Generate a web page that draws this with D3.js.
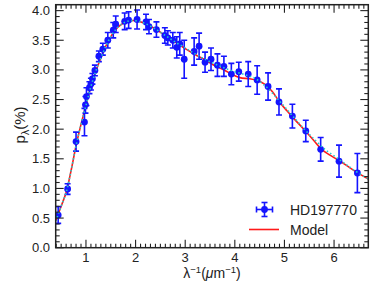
<!DOCTYPE html>
<html><head><meta charset="utf-8">
<script src="https://cdn.jsdelivr.net/npm/d3@7"></script>
<style>body{margin:0;background:#fff}svg{display:block}text{font-family:"Liberation Sans",Arial,sans-serif}</style>
</head><body><svg id="c" width="374" height="286"></svg>
<script>
const obsX = [0.44,0.63,0.80,0.97,0.99,1.01,1.07,1.10,1.13,1.18,1.26,1.34,1.44,1.55,1.60,1.78,1.86,2.03,2.21,2.27,2.42,2.59,2.65,2.75,2.83,2.89,2.98,3.18,3.28,3.40,3.52,3.65,3.78,3.93,4.08,4.27,4.45,4.67,4.89,5.16,5.43,5.73,6.10,6.47];
const obsP = [0.55,0.99,1.79,2.12,2.41,2.55,2.70,2.76,2.85,2.99,3.23,3.35,3.50,3.67,3.77,3.82,3.84,3.85,3.81,3.73,3.68,3.58,3.54,3.50,3.38,3.44,3.18,3.31,3.40,3.13,3.18,3.08,3.06,2.93,2.97,2.93,2.83,2.72,2.46,2.22,1.97,1.66,1.46,1.26];
const obsErr = [0.14,0.09,0.16,0.23,0.14,0.15,0.10,0.10,0.09,0.09,0.09,0.10,0.13,0.13,0.14,0.14,0.14,0.16,0.13,0.12,0.13,0.13,0.12,0.13,0.18,0.19,0.32,0.23,0.22,0.17,0.19,0.19,0.17,0.18,0.16,0.21,0.24,0.23,0.22,0.20,0.18,0.20,0.27,0.33];
const modelX = [0.39,0.50,0.60,0.70,0.80,0.90,1.00,1.10,1.20,1.30,1.40,1.50,1.60,1.70,1.80,1.90,2.00,2.10,2.20,2.40,2.60,2.80,3.00,3.20,3.40,3.60,3.80,3.95,4.10,4.30,4.45,4.60,4.75,4.90,5.05,5.20,5.40,5.60,5.75,5.90,6.10,6.30,6.50,6.69];
const modelP = [0.45,0.70,0.93,1.30,1.72,2.08,2.40,2.72,2.98,3.20,3.40,3.56,3.68,3.76,3.81,3.83,3.83,3.81,3.78,3.69,3.58,3.47,3.36,3.26,3.17,3.07,2.99,2.92,2.87,2.85,2.82,2.76,2.64,2.46,2.31,2.17,1.99,1.80,1.66,1.57,1.47,1.36,1.25,1.16];
const model2X = [0.39,0.50,0.60,0.70,0.80,0.90,1.00,1.10,1.20,1.30,1.40,1.50,1.60,1.70,1.80,1.90,2.00,2.10,2.20,2.40,2.60,2.80,3.00,3.20,3.40,3.60,3.80,4.00,4.20,4.40,4.60,4.80,5.00,5.20,5.40,5.60,5.80,6.00,6.20,6.40,6.69];
const model2P = [0.45,0.70,0.93,1.30,1.72,2.08,2.40,2.72,2.98,3.20,3.40,3.56,3.68,3.76,3.81,3.83,3.83,3.81,3.78,3.69,3.58,3.47,3.37,3.27,3.18,3.10,3.03,2.97,2.92,2.86,2.74,2.57,2.38,2.19,2.00,1.83,1.67,1.55,1.43,1.31,1.16];
const xMajor = [1,2,3,4,5,6];
const yMajor = [0.0,0.5,1.0,1.5,2.0,2.5,3.0,3.5,4.0];
const legendLabels = ["HD197770","Model"];

const svg = d3.select("#c");
const L=55.7,R=368.3,T=4.7,B=247.7;
const x = d3.scaleLinear().domain([0.39,6.69]).range([L,R]);
const y = d3.scaleLinear().domain([0,4.1]).range([B,T]);
const axisCol="#222";

svg.append("defs").append("clipPath").attr("id","cp").append("rect")
  .attr("x",L).attr("y",T).attr("width",R-L).attr("height",B-T);

const g = svg.append("g").attr("clip-path","url(#cp)");
const line = d3.line().x(d=>x(d[0])).y(d=>y(d[1])).curve(d3.curveCatmullRom);
g.append("path").datum(d3.zip(modelX,modelP)).attr("d",line)
  .attr("fill","none").attr("stroke","#ff1a1a").attr("stroke-width",1.6);

const blue="#1414ff";
const data = obsX.map((v,i)=>({x:v,p:obsP[i],e:obsErr[i]}));
const eb = g.append("g").attr("stroke",blue).attr("stroke-width",1.6);
data.forEach(d=>{
  eb.append("line").attr("x1",x(d.x)).attr("x2",x(d.x)).attr("y1",y(d.p-d.e)).attr("y2",y(d.p+d.e));
  eb.append("line").attr("x1",x(d.x)-3).attr("x2",x(d.x)+3).attr("y1",y(d.p-d.e)).attr("y2",y(d.p-d.e));
  eb.append("line").attr("x1",x(d.x)-3).attr("x2",x(d.x)+3).attr("y1",y(d.p+d.e)).attr("y2",y(d.p+d.e));
  eb.append("line").attr("x1",x(d.x)-2.5).attr("x2",x(d.x)+2.5).attr("y1",y(d.p)).attr("y2",y(d.p));
});
g.append("g").selectAll("circle").data(data).join("circle")
  .attr("cx",d=>x(d.x)).attr("cy",d=>y(d.p)).attr("r",3.4).attr("fill",blue);

g.append("path").datum(d3.zip(model2X,model2P)).attr("d",line)
  .attr("fill","none").attr("stroke","#22cccc").attr("stroke-width",1.6).attr("stroke-dasharray","1.5,2.5");

svg.append("rect").attr("x",L).attr("y",T).attr("width",R-L).attr("height",B-T)
  .attr("fill","none").attr("stroke",axisCol).attr("stroke-width",1.5);

const tk = svg.append("g").attr("stroke",axisCol).attr("stroke-width",1.1);
const xMinor = d3.range(4,67).map(i=>i/10).filter(v=>!xMajor.some(m=>Math.abs(m-v)<1e-6));
xMinor.forEach(v=>{
  tk.append("line").attr("x1",x(v)).attr("x2",x(v)).attr("y1",B).attr("y2",B-4);
  tk.append("line").attr("x1",x(v)).attr("x2",x(v)).attr("y1",T).attr("y2",T+4);
});
xMajor.forEach(v=>{
  tk.append("line").attr("x1",x(v)).attr("x2",x(v)).attr("y1",B).attr("y2",B-8);
  tk.append("line").attr("x1",x(v)).attr("x2",x(v)).attr("y1",T).attr("y2",T+8);
});
const yMinor = d3.range(0,41).map(i=>i/10).filter(v=>!yMajor.some(m=>Math.abs(m-v)<1e-6));
yMinor.forEach(v=>{
  tk.append("line").attr("x1",L).attr("x2",L+4).attr("y1",y(v)).attr("y2",y(v));
  tk.append("line").attr("x1",R).attr("x2",R-4).attr("y1",y(v)).attr("y2",y(v));
});
yMajor.forEach(v=>{
  tk.append("line").attr("x1",L).attr("x2",L+8).attr("y1",y(v)).attr("y2",y(v));
  tk.append("line").attr("x1",R).attr("x2",R-8).attr("y1",y(v)).attr("y2",y(v));
});

const fs=13;
svg.append("g").selectAll("text").data(xMajor).join("text")
  .attr("x",d=>x(d)).attr("y",261.5).attr("text-anchor","middle").attr("font-size",fs)
  .attr("fill","#222").text(d=>d);
svg.append("g").selectAll("text").data(yMajor).join("text")
  .attr("x",50).attr("y",d=>y(d)+4.6).attr("text-anchor","end").attr("font-size",fs)
  .attr("fill","#222").text(d=>d.toFixed(1));

const xt = svg.append("text").attr("x",212).attr("y",278).attr("text-anchor","middle")
  .attr("font-size",14).attr("fill","#222");
xt.append("tspan").text("λ");
xt.append("tspan").attr("dy",-5.5).attr("font-size",9.5).text("−1");
xt.append("tspan").attr("dy",5.5).text("(");
xt.append("tspan").attr("font-style","italic").text("μ");
xt.append("tspan").text("m");
xt.append("tspan").attr("dy",-5.5).attr("font-size",9.5).text("−1");
xt.append("tspan").attr("dy",5.5).text(")");

const yt = svg.append("text").attr("transform","translate(25,125) rotate(-90)")
  .attr("text-anchor","middle").attr("font-size",15).attr("fill","#222");
yt.append("tspan").text("p");
yt.append("tspan").attr("dy",3.5).attr("font-size",10.5).text("λ");
yt.append("tspan").attr("dy",-3.5).text("(%)");

const lg = svg.append("g");
const lx=264.5, ly=209.5;
lg.append("g").attr("stroke",blue).attr("stroke-width",1.6).call(s=>{
  s.append("line").attr("x1",lx-8).attr("x2",lx+8).attr("y1",ly).attr("y2",ly);
  s.append("line").attr("x1",lx).attr("x2",lx).attr("y1",ly-7).attr("y2",ly+7);
  s.append("line").attr("x1",lx-3).attr("x2",lx+3).attr("y1",ly-7).attr("y2",ly-7);
  s.append("line").attr("x1",lx-3).attr("x2",lx+3).attr("y1",ly+7).attr("y2",ly+7);
  s.append("line").attr("x1",lx-8).attr("x2",lx-8).attr("y1",ly-3).attr("y2",ly+3);
  s.append("line").attr("x1",lx+8).attr("x2",lx+8).attr("y1",ly-3).attr("y2",ly+3);
});
lg.append("circle").attr("cx",lx).attr("cy",ly).attr("r",3.4).attr("fill",blue);
lg.append("line").attr("x1",249).attr("x2",279).attr("y1",229.5).attr("y2",229.5)
  .attr("stroke","#ff1a1a").attr("stroke-width",1.6);
lg.selectAll("text.lab").data(legendLabels).join("text").attr("class","lab")
  .attr("x",290).attr("y",(d,i)=>215+i*20).attr("font-size",14).attr("fill","#222").text(d=>d);
</script></body></html>
